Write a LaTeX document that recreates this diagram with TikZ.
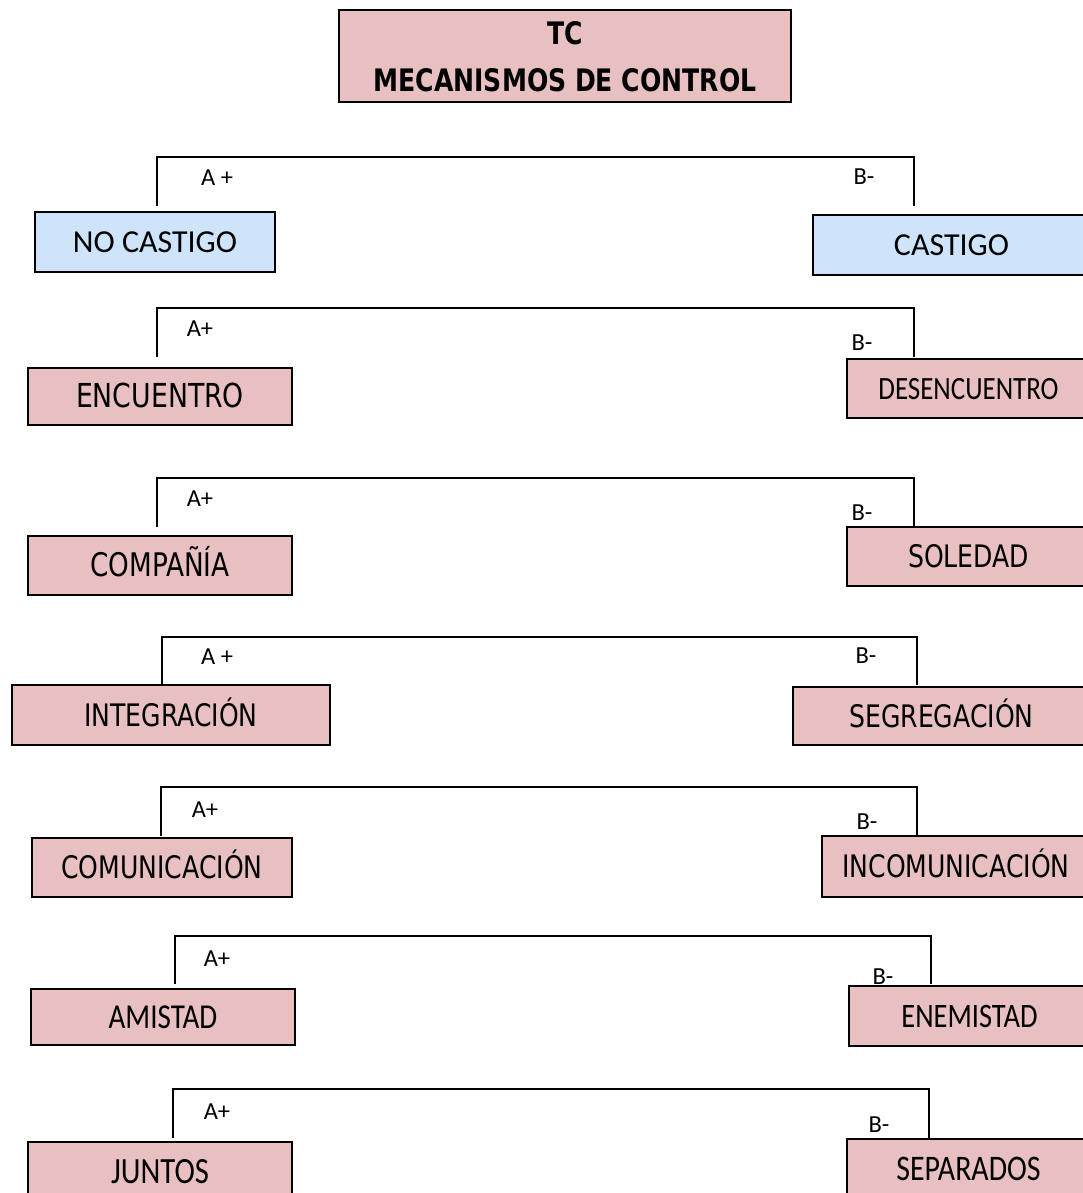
\documentclass[tikz,border=0pt]{standalone}
\usepackage{fontspec}
\setmainfont{DejaVu Sans Condensed}[BoldFont={DejaVu Sans Condensed Bold}, FakeStretch=0.9]
\newfontfamily\calibri{Carlito}
\newfontfamily\calnarrow{Carlito}[FakeStretch=0.83]
\definecolor{box_pink}{RGB}{232,192,194}
\definecolor{box_blue}{RGB}{206,228,250}
\tikzset{
    pinkbox/.style={draw=black, line width=1.6pt, fill=box_pink, inner sep=0pt,
        text height=22.5pt, text depth=0pt, font=\fontsize{31}{36}\selectfont},
    bluebox/.style={pinkbox, fill=box_blue},
    cal/.style={font=\calibri\fontsize{#1}{#1}\selectfont, text height=20.6pt},
    caln/.style={font=\calnarrow\fontsize{#1}{#1}\selectfont, text height=22.5pt},
    sign/.style={inner sep=0pt, font=\calibri\fontsize{24.5}{28}\selectfont},
    bracket/.style={line width=1.6pt}
}

\begin{document}
\begin{tikzpicture}[x=1pt, y=-1pt]
    \clip (0,0) rectangle (1083,1193);
    % Title
    \node[pinkbox, text height=, minimum width=452pt, minimum height=92pt, align=center,
        font=\bfseries\fontsize{31}{47}\selectfont] (titulo) at (565,56) {TC\\MECANISMOS DE CONTROL};
    % Boxes, left column
    \node[bluebox, cal=32, minimum width=240pt, minimum height=60pt] (nocastigo) at (155,242) {NO CASTIGO};
    \node[pinkbox, font=\fontsize{33}{36}\selectfont, minimum width=264pt, minimum height=57pt] (encuentro) at (160,396.5) {ENCUENTRO};
    \node[pinkbox, font=\fontsize{32.5}{36}\selectfont, minimum width=264pt, minimum height=59pt] (compania) at (160,565.5) {COMPAÑÍA};
    \node[pinkbox, minimum width=318pt, minimum height=60pt] (integracion) at (171,715) {INTEGRACIÓN};
    \node[pinkbox, minimum width=260pt, minimum height=59pt] (comunicacion) at (162,867.5) {COMUNICACIÓN};
    \node[pinkbox, caln=35, minimum width=264pt, minimum height=56pt] (amistad) at (163,1017) {AMISTAD};
    \node[pinkbox, caln=37, minimum width=264pt, minimum height=60pt] (juntos) at (160,1172) {JUNTOS};
    % Boxes, right column
    \node[bluebox, cal=32, minimum width=277pt, minimum height=60pt] (castigo) at (951.5,245) {CASTIGO};
    \node[pinkbox, caln=32.5, minimum width=243pt, minimum height=59pt] (desencuentro) at (968.5,388.5) {DESENCUENTRO};
    \node[pinkbox, minimum width=243pt, minimum height=59pt] (soledad) at (968.5,556.5) {SOLEDAD};
    \node[pinkbox, minimum width=297pt, minimum height=58pt] (segregacion) at (941.5,716) {SEGREGACIÓN};
    \node[pinkbox, minimum width=268pt, minimum height=61pt] (incomunicacion) at (956,866.5) {INCOMUNICACIÓN};
    \node[pinkbox, caln=34.3, minimum width=241pt, minimum height=60pt] (enemistad) at (969.5,1016) {ENEMISTAD};
    \node[pinkbox, caln=36, minimum width=243pt, minimum height=60pt] (separados) at (968.5,1169) {SEPARADOS};
    % Bracket ends
    \coordinate (a1) at (157,206);  \coordinate (b1) at (914,206);
    \coordinate (a2) at (157,357);  \coordinate (b2) at (914,357);
    \coordinate (a3) at (157,527);  \coordinate (b3) at (914,527);
    \coordinate (a4) at (162,685);  \coordinate (b4) at (917,685);
    \coordinate (a5) at (161,836);  \coordinate (b5) at (917,836);
    \coordinate (a6) at (175,984);  \coordinate (b6) at (931,984);
    \coordinate (a7) at (173,1138); \coordinate (b7) at (929,1138);
    % Brackets
    \draw[bracket] (a1) -- ++(0,-49) -| (b1);
    \draw[bracket] (a2) -- ++(0,-49) -| (b2);
    \draw[bracket] (a3) -- ++(0,-49) -| (b3);
    \draw[bracket] (a4) -- ++(0,-48) -| (b4);
    \draw[bracket] (a5) -- ++(0,-49) -| (b5);
    \draw[bracket] (a6) -- ++(0,-48) -| (b6);
    \draw[bracket] (a7) -- ++(0,-49) -| (b7);
    % Signs
    \node[sign] (mas1) at (217,178) {A +};   \node[sign] (menos1) at (864,177) {B-};
    \node[sign] (mas2) at (200,329) {A+};    \node[sign] (menos2) at (862,343) {B-};
    \node[sign] (mas3) at (200,499) {A+};    \node[sign] (menos3) at (862,513) {B-};
    \node[sign] (mas4) at (217,657) {A +};   \node[sign] (menos4) at (866,656) {B-};
    \node[sign] (mas5) at (205,810) {A+};    \node[sign] (menos5) at (867,822) {B-};
    \node[sign] (mas6) at (217,959) {A+};    \node[sign] (menos6) at (883,977) {B-};
    \node[sign] (mas7) at (217,1112) {A+};   \node[sign] (menos7) at (879,1125) {B-};
\end{tikzpicture}
\end{document}
